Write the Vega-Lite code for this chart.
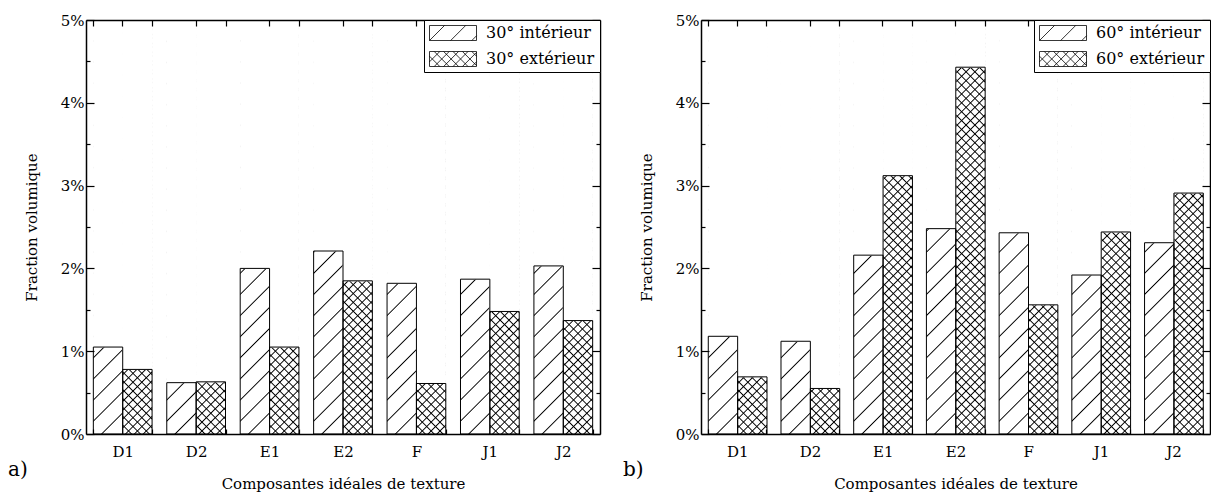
{
"$schema": "https://vega.github.io/schema/vega-lite/v6.json",
"background": "white",
"padding": {"left": 8, "top": 13, "right": 0, "bottom": 4},
"spacing": 22,
"resolve": {"scale": {"shape": "independent"}, "legend": {"shape": "independent"}},
"params": [
  {"name": "gInt", "value": {"gradient": "linear", "x1": 0, "y1": 0, "x2": 0.0756, "y2": 1.0656, "stops": [
{"offset":0.0446,"color":"transparent"},{"offset":0.0476,"color":"black"},{"offset":0.0506,"color":"transparent"},
{"offset":0.0922,"color":"transparent"},{"offset":0.0952,"color":"black"},{"offset":0.0982,"color":"transparent"},
{"offset":0.1399,"color":"transparent"},{"offset":0.1429,"color":"black"},{"offset":0.1459,"color":"transparent"},
{"offset":0.1875,"color":"transparent"},{"offset":0.1905,"color":"black"},{"offset":0.1935,"color":"transparent"},
{"offset":0.2351,"color":"transparent"},{"offset":0.2381,"color":"black"},{"offset":0.2411,"color":"transparent"},
{"offset":0.2827,"color":"transparent"},{"offset":0.2857,"color":"black"},{"offset":0.2887,"color":"transparent"},
{"offset":0.3303,"color":"transparent"},{"offset":0.3333,"color":"black"},{"offset":0.3363,"color":"transparent"},
{"offset":0.378,"color":"transparent"},{"offset":0.381,"color":"black"},{"offset":0.384,"color":"transparent"},
{"offset":0.4256,"color":"transparent"},{"offset":0.4286,"color":"black"},{"offset":0.4316,"color":"transparent"},
{"offset":0.4732,"color":"transparent"},{"offset":0.4762,"color":"black"},{"offset":0.4792,"color":"transparent"},
{"offset":0.5208,"color":"transparent"},{"offset":0.5238,"color":"black"},{"offset":0.5268,"color":"transparent"},
{"offset":0.5684,"color":"transparent"},{"offset":0.5714,"color":"black"},{"offset":0.5744,"color":"transparent"},
{"offset":0.616,"color":"transparent"},{"offset":0.619,"color":"black"},{"offset":0.622,"color":"transparent"},
{"offset":0.6637,"color":"transparent"},{"offset":0.6667,"color":"black"},{"offset":0.6697,"color":"transparent"},
{"offset":0.7113,"color":"transparent"},{"offset":0.7143,"color":"black"},{"offset":0.7173,"color":"transparent"},
{"offset":0.7589,"color":"transparent"},{"offset":0.7619,"color":"black"},{"offset":0.7649,"color":"transparent"},
{"offset":0.8065,"color":"transparent"},{"offset":0.8095,"color":"black"},{"offset":0.8125,"color":"transparent"},
{"offset":0.8541,"color":"transparent"},{"offset":0.8571,"color":"black"},{"offset":0.8601,"color":"transparent"},
{"offset":0.9018,"color":"transparent"},{"offset":0.9048,"color":"black"},{"offset":0.9078,"color":"transparent"},
{"offset":0.9494,"color":"transparent"},{"offset":0.9524,"color":"black"},{"offset":0.9554,"color":"transparent"}
  ]}},
  {"name": "gXa", "value": {"gradient": "linear", "x1": 0, "y1": 0, "x2": 0.0756, "y2": 1.0656, "stops": [
{"offset":0.017,"color":"transparent"},{"offset":0.02,"color":"black"},{"offset":0.023,"color":"transparent"},
{"offset":0.037,"color":"transparent"},{"offset":0.04,"color":"black"},{"offset":0.043,"color":"transparent"},
{"offset":0.057,"color":"transparent"},{"offset":0.06,"color":"black"},{"offset":0.063,"color":"transparent"},
{"offset":0.077,"color":"transparent"},{"offset":0.08,"color":"black"},{"offset":0.083,"color":"transparent"},
{"offset":0.097,"color":"transparent"},{"offset":0.1,"color":"black"},{"offset":0.103,"color":"transparent"},
{"offset":0.117,"color":"transparent"},{"offset":0.12,"color":"black"},{"offset":0.123,"color":"transparent"},
{"offset":0.137,"color":"transparent"},{"offset":0.14,"color":"black"},{"offset":0.143,"color":"transparent"},
{"offset":0.157,"color":"transparent"},{"offset":0.16,"color":"black"},{"offset":0.163,"color":"transparent"},
{"offset":0.177,"color":"transparent"},{"offset":0.18,"color":"black"},{"offset":0.183,"color":"transparent"},
{"offset":0.197,"color":"transparent"},{"offset":0.2,"color":"black"},{"offset":0.203,"color":"transparent"},
{"offset":0.217,"color":"transparent"},{"offset":0.22,"color":"black"},{"offset":0.223,"color":"transparent"},
{"offset":0.237,"color":"transparent"},{"offset":0.24,"color":"black"},{"offset":0.243,"color":"transparent"},
{"offset":0.257,"color":"transparent"},{"offset":0.26,"color":"black"},{"offset":0.263,"color":"transparent"},
{"offset":0.277,"color":"transparent"},{"offset":0.28,"color":"black"},{"offset":0.283,"color":"transparent"},
{"offset":0.297,"color":"transparent"},{"offset":0.3,"color":"black"},{"offset":0.303,"color":"transparent"},
{"offset":0.317,"color":"transparent"},{"offset":0.32,"color":"black"},{"offset":0.323,"color":"transparent"},
{"offset":0.337,"color":"transparent"},{"offset":0.34,"color":"black"},{"offset":0.343,"color":"transparent"},
{"offset":0.357,"color":"transparent"},{"offset":0.36,"color":"black"},{"offset":0.363,"color":"transparent"},
{"offset":0.377,"color":"transparent"},{"offset":0.38,"color":"black"},{"offset":0.383,"color":"transparent"},
{"offset":0.397,"color":"transparent"},{"offset":0.4,"color":"black"},{"offset":0.403,"color":"transparent"},
{"offset":0.417,"color":"transparent"},{"offset":0.42,"color":"black"},{"offset":0.423,"color":"transparent"},
{"offset":0.437,"color":"transparent"},{"offset":0.44,"color":"black"},{"offset":0.443,"color":"transparent"},
{"offset":0.457,"color":"transparent"},{"offset":0.46,"color":"black"},{"offset":0.463,"color":"transparent"},
{"offset":0.477,"color":"transparent"},{"offset":0.48,"color":"black"},{"offset":0.483,"color":"transparent"},
{"offset":0.497,"color":"transparent"},{"offset":0.5,"color":"black"},{"offset":0.503,"color":"transparent"},
{"offset":0.517,"color":"transparent"},{"offset":0.52,"color":"black"},{"offset":0.523,"color":"transparent"},
{"offset":0.537,"color":"transparent"},{"offset":0.54,"color":"black"},{"offset":0.543,"color":"transparent"},
{"offset":0.557,"color":"transparent"},{"offset":0.56,"color":"black"},{"offset":0.563,"color":"transparent"},
{"offset":0.577,"color":"transparent"},{"offset":0.58,"color":"black"},{"offset":0.583,"color":"transparent"},
{"offset":0.597,"color":"transparent"},{"offset":0.6,"color":"black"},{"offset":0.603,"color":"transparent"},
{"offset":0.617,"color":"transparent"},{"offset":0.62,"color":"black"},{"offset":0.623,"color":"transparent"},
{"offset":0.637,"color":"transparent"},{"offset":0.64,"color":"black"},{"offset":0.643,"color":"transparent"},
{"offset":0.657,"color":"transparent"},{"offset":0.66,"color":"black"},{"offset":0.663,"color":"transparent"},
{"offset":0.677,"color":"transparent"},{"offset":0.68,"color":"black"},{"offset":0.683,"color":"transparent"},
{"offset":0.697,"color":"transparent"},{"offset":0.7,"color":"black"},{"offset":0.703,"color":"transparent"},
{"offset":0.717,"color":"transparent"},{"offset":0.72,"color":"black"},{"offset":0.723,"color":"transparent"},
{"offset":0.737,"color":"transparent"},{"offset":0.74,"color":"black"},{"offset":0.743,"color":"transparent"},
{"offset":0.757,"color":"transparent"},{"offset":0.76,"color":"black"},{"offset":0.763,"color":"transparent"},
{"offset":0.777,"color":"transparent"},{"offset":0.78,"color":"black"},{"offset":0.783,"color":"transparent"},
{"offset":0.797,"color":"transparent"},{"offset":0.8,"color":"black"},{"offset":0.803,"color":"transparent"},
{"offset":0.817,"color":"transparent"},{"offset":0.82,"color":"black"},{"offset":0.823,"color":"transparent"},
{"offset":0.837,"color":"transparent"},{"offset":0.84,"color":"black"},{"offset":0.843,"color":"transparent"},
{"offset":0.857,"color":"transparent"},{"offset":0.86,"color":"black"},{"offset":0.863,"color":"transparent"},
{"offset":0.877,"color":"transparent"},{"offset":0.88,"color":"black"},{"offset":0.883,"color":"transparent"},
{"offset":0.897,"color":"transparent"},{"offset":0.9,"color":"black"},{"offset":0.903,"color":"transparent"},
{"offset":0.917,"color":"transparent"},{"offset":0.92,"color":"black"},{"offset":0.923,"color":"transparent"},
{"offset":0.937,"color":"transparent"},{"offset":0.94,"color":"black"},{"offset":0.943,"color":"transparent"},
{"offset":0.957,"color":"transparent"},{"offset":0.96,"color":"black"},{"offset":0.963,"color":"transparent"},
{"offset":0.977,"color":"transparent"},{"offset":0.98,"color":"black"},{"offset":0.983,"color":"transparent"}
  ]}},
  {"name": "gXb", "value": {"gradient": "linear", "x1": 0, "y1": 1, "x2": 0.0756, "y2": -0.0656, "stops": [
{"offset":0.017,"color":"transparent"},{"offset":0.02,"color":"black"},{"offset":0.023,"color":"transparent"},
{"offset":0.037,"color":"transparent"},{"offset":0.04,"color":"black"},{"offset":0.043,"color":"transparent"},
{"offset":0.057,"color":"transparent"},{"offset":0.06,"color":"black"},{"offset":0.063,"color":"transparent"},
{"offset":0.077,"color":"transparent"},{"offset":0.08,"color":"black"},{"offset":0.083,"color":"transparent"},
{"offset":0.097,"color":"transparent"},{"offset":0.1,"color":"black"},{"offset":0.103,"color":"transparent"},
{"offset":0.117,"color":"transparent"},{"offset":0.12,"color":"black"},{"offset":0.123,"color":"transparent"},
{"offset":0.137,"color":"transparent"},{"offset":0.14,"color":"black"},{"offset":0.143,"color":"transparent"},
{"offset":0.157,"color":"transparent"},{"offset":0.16,"color":"black"},{"offset":0.163,"color":"transparent"},
{"offset":0.177,"color":"transparent"},{"offset":0.18,"color":"black"},{"offset":0.183,"color":"transparent"},
{"offset":0.197,"color":"transparent"},{"offset":0.2,"color":"black"},{"offset":0.203,"color":"transparent"},
{"offset":0.217,"color":"transparent"},{"offset":0.22,"color":"black"},{"offset":0.223,"color":"transparent"},
{"offset":0.237,"color":"transparent"},{"offset":0.24,"color":"black"},{"offset":0.243,"color":"transparent"},
{"offset":0.257,"color":"transparent"},{"offset":0.26,"color":"black"},{"offset":0.263,"color":"transparent"},
{"offset":0.277,"color":"transparent"},{"offset":0.28,"color":"black"},{"offset":0.283,"color":"transparent"},
{"offset":0.297,"color":"transparent"},{"offset":0.3,"color":"black"},{"offset":0.303,"color":"transparent"},
{"offset":0.317,"color":"transparent"},{"offset":0.32,"color":"black"},{"offset":0.323,"color":"transparent"},
{"offset":0.337,"color":"transparent"},{"offset":0.34,"color":"black"},{"offset":0.343,"color":"transparent"},
{"offset":0.357,"color":"transparent"},{"offset":0.36,"color":"black"},{"offset":0.363,"color":"transparent"},
{"offset":0.377,"color":"transparent"},{"offset":0.38,"color":"black"},{"offset":0.383,"color":"transparent"},
{"offset":0.397,"color":"transparent"},{"offset":0.4,"color":"black"},{"offset":0.403,"color":"transparent"},
{"offset":0.417,"color":"transparent"},{"offset":0.42,"color":"black"},{"offset":0.423,"color":"transparent"},
{"offset":0.437,"color":"transparent"},{"offset":0.44,"color":"black"},{"offset":0.443,"color":"transparent"},
{"offset":0.457,"color":"transparent"},{"offset":0.46,"color":"black"},{"offset":0.463,"color":"transparent"},
{"offset":0.477,"color":"transparent"},{"offset":0.48,"color":"black"},{"offset":0.483,"color":"transparent"},
{"offset":0.497,"color":"transparent"},{"offset":0.5,"color":"black"},{"offset":0.503,"color":"transparent"},
{"offset":0.517,"color":"transparent"},{"offset":0.52,"color":"black"},{"offset":0.523,"color":"transparent"},
{"offset":0.537,"color":"transparent"},{"offset":0.54,"color":"black"},{"offset":0.543,"color":"transparent"},
{"offset":0.557,"color":"transparent"},{"offset":0.56,"color":"black"},{"offset":0.563,"color":"transparent"},
{"offset":0.577,"color":"transparent"},{"offset":0.58,"color":"black"},{"offset":0.583,"color":"transparent"},
{"offset":0.597,"color":"transparent"},{"offset":0.6,"color":"black"},{"offset":0.603,"color":"transparent"},
{"offset":0.617,"color":"transparent"},{"offset":0.62,"color":"black"},{"offset":0.623,"color":"transparent"},
{"offset":0.637,"color":"transparent"},{"offset":0.64,"color":"black"},{"offset":0.643,"color":"transparent"},
{"offset":0.657,"color":"transparent"},{"offset":0.66,"color":"black"},{"offset":0.663,"color":"transparent"},
{"offset":0.677,"color":"transparent"},{"offset":0.68,"color":"black"},{"offset":0.683,"color":"transparent"},
{"offset":0.697,"color":"transparent"},{"offset":0.7,"color":"black"},{"offset":0.703,"color":"transparent"},
{"offset":0.717,"color":"transparent"},{"offset":0.72,"color":"black"},{"offset":0.723,"color":"transparent"},
{"offset":0.737,"color":"transparent"},{"offset":0.74,"color":"black"},{"offset":0.743,"color":"transparent"},
{"offset":0.757,"color":"transparent"},{"offset":0.76,"color":"black"},{"offset":0.763,"color":"transparent"},
{"offset":0.777,"color":"transparent"},{"offset":0.78,"color":"black"},{"offset":0.783,"color":"transparent"},
{"offset":0.797,"color":"transparent"},{"offset":0.8,"color":"black"},{"offset":0.803,"color":"transparent"},
{"offset":0.817,"color":"transparent"},{"offset":0.82,"color":"black"},{"offset":0.823,"color":"transparent"},
{"offset":0.837,"color":"transparent"},{"offset":0.84,"color":"black"},{"offset":0.843,"color":"transparent"},
{"offset":0.857,"color":"transparent"},{"offset":0.86,"color":"black"},{"offset":0.863,"color":"transparent"},
{"offset":0.877,"color":"transparent"},{"offset":0.88,"color":"black"},{"offset":0.883,"color":"transparent"},
{"offset":0.897,"color":"transparent"},{"offset":0.9,"color":"black"},{"offset":0.903,"color":"transparent"},
{"offset":0.917,"color":"transparent"},{"offset":0.92,"color":"black"},{"offset":0.923,"color":"transparent"},
{"offset":0.937,"color":"transparent"},{"offset":0.94,"color":"black"},{"offset":0.943,"color":"transparent"},
{"offset":0.957,"color":"transparent"},{"offset":0.96,"color":"black"},{"offset":0.963,"color":"transparent"},
{"offset":0.977,"color":"transparent"},{"offset":0.98,"color":"black"},{"offset":0.983,"color":"transparent"}
  ]}}
],
"config": {
  "font": "DejaVu Serif",
  "view": {"stroke": null},
  "axis": {"grid": false, "labelFont": "DejaVu Serif", "labelFontSize": 15, "labelColor": "black", "titleFont": "DejaVu Serif", "titleFontSize": 15, "titleFontWeight": "normal", "titleColor": "black", "domainColor": "black", "domainWidth": 1.5, "tickColor": "black", "tickWidth": 1.2},
  "title": {"font": "DejaVu Serif", "fontSize": 20, "fontWeight": "normal", "color": "black"},
  "legend": {"orient": "top-right", "offset": 0, "padding": 5, "fillColor": "white", "strokeColor": "black", "strokeWidth": 1, "labelFont": "DejaVu Serif", "labelFontSize": 16, "labelColor": "black", "labelOffset": 9, "symbolOpacity": 1}
},
"hconcat": [
{
  "width": 514, "height": 414,
  "title": {"text": "a)", "orient": "bottom", "anchor": "start", "frame": "group", "dx": -78, "dy": -35},
  "data": {"values": [
    {"cat": "D1", "ori": "int", "v": 1.05, "serie": "30° intérieur"}, {"cat": "D1", "ori": "ext", "v": 0.78, "serie": "30° extérieur"},
    {"cat": "D2", "ori": "int", "v": 0.62, "serie": "30° intérieur"}, {"cat": "D2", "ori": "ext", "v": 0.63, "serie": "30° extérieur"},
    {"cat": "E1", "ori": "int", "v": 2.00, "serie": "30° intérieur"}, {"cat": "E1", "ori": "ext", "v": 1.05, "serie": "30° extérieur"},
    {"cat": "E2", "ori": "int", "v": 2.21, "serie": "30° intérieur"}, {"cat": "E2", "ori": "ext", "v": 1.85, "serie": "30° extérieur"},
    {"cat": "F", "ori": "int", "v": 1.82, "serie": "30° intérieur"}, {"cat": "F", "ori": "ext", "v": 0.61, "serie": "30° extérieur"},
    {"cat": "J1", "ori": "int", "v": 1.87, "serie": "30° intérieur"}, {"cat": "J1", "ori": "ext", "v": 1.48, "serie": "30° extérieur"},
    {"cat": "J2", "ori": "int", "v": 2.03, "serie": "30° intérieur"}, {"cat": "J2", "ori": "ext", "v": 1.37, "serie": "30° extérieur"}
  ]},
  "resolve": {"axis": {"x": "independent", "y": "independent"}},
  "layer": [
    {"transform": [{"filter": "datum.ori == 'int'"}],
     "mark": {"type": "bar", "fill": {"expr": "gInt"}, "strokeWidth": 0},
     "encoding": {
       "x": {"field": "cat", "type": "nominal", "scale": {"domain": ["D1","D2","E1","E2","F","J1","J2"], "paddingInner": 0.2, "paddingOuter": 0.1}, "axis": {"orient": "bottom", "zindex": 1, "title": "Composantes idéales de texture", "tickBand": "extent", "tickSize": -5, "labelPadding": 15, "labelAngle": 0, "titlePadding": 17}},
       "xOffset": {"field": "ori", "type": "nominal", "scale": {"domain": ["int","ext"], "paddingInner": 0, "paddingOuter": 0}},
       "y": {"datum": 0, "type": "quantitative", "scale": {"domain": [0, 5], "nice": false}, "axis": {"orient": "left", "zindex": 1, "title": "Fraction volumique", "values": [0,1,2,3,4,5], "labelExpr": "datum.value + '%'", "tickSize": -8, "labelPadding": 10, "titlePadding": 21}},
       "y2": {"datum": 5}
     }},
    {"transform": [{"filter": "datum.ori == 'ext'"}],
     "mark": {"type": "bar", "fill": {"expr": "gXa"}, "strokeWidth": 0},
     "encoding": {
       "x": {"field": "cat", "type": "nominal", "axis": {"orient": "top", "zindex": 1, "title": null, "labels": false, "tickBand": "extent", "tickSize": -6}},
       "xOffset": {"field": "ori", "type": "nominal"},
       "y": {"datum": 0, "type": "quantitative", "axis": {"orient": "right", "zindex": 1, "title": null, "labels": false, "values": [0,1,2,3,4,5], "tickSize": -8}},
       "y2": {"datum": 5}
     }},
    {"transform": [{"filter": "datum.ori == 'ext'"}],
     "mark": {"type": "bar", "fill": {"expr": "gXb"}, "strokeWidth": 0},
     "encoding": {
       "x": {"field": "cat", "type": "nominal", "axis": {"orient": "top", "zindex": 1, "title": null, "labels": false, "domain": false, "tickSize": -6}},
       "xOffset": {"field": "ori", "type": "nominal"},
       "y": {"datum": 0, "type": "quantitative", "axis": {"orient": "left", "zindex": 1, "title": null, "labels": false, "domain": false, "values": [0.5,1.5,2.5,3.5,4.5], "tickSize": -4}},
       "y2": {"datum": 5}
     }},
    {"mark": {"type": "bar", "fill": "white", "stroke": "white", "strokeWidth": 1},
     "encoding": {
       "x": {"field": "cat", "type": "nominal", "axis": null},
       "xOffset": {"field": "ori", "type": "nominal"},
       "y": {"field": "v", "type": "quantitative", "axis": {"orient": "right", "zindex": 1, "title": null, "labels": false, "domain": false, "values": [0.5,1.5,2.5,3.5,4.5], "tickSize": -4}},
       "y2": {"datum": 5}
     }},
    {"mark": {"type": "bar", "fill": "transparent", "stroke": "black", "strokeWidth": 1},
     "encoding": {
       "x": {"field": "cat", "type": "nominal", "axis": null},
       "xOffset": {"field": "ori", "type": "nominal"},
       "y": {"field": "v", "type": "quantitative", "axis": null}
     }},
    {"mark": {"type": "point", "size": 0},
     "encoding": {
       "x": {"field": "cat", "type": "nominal", "axis": null},
       "y": {"field": "v", "type": "quantitative", "axis": null},
       "shape": {"field": "serie", "type": "nominal",
         "scale": {"domain": ["30° intérieur", "30° extérieur"], "range": ["M-1,-0.32H1V0.32H-1ZM-1,0.32L-0.36,-0.32M-0.1,0.32L0.54,-0.32M0.8,0.32L1,0.12", "M-1,-0.32H1V0.32H-1ZM-1,0.12L-0.56,-0.32M-0.8,0.32L-0.16,-0.32M-0.4,0.32L0.24,-0.32M0,0.32L0.64,-0.32M0.4,0.32L1,-0.28M0.8,0.32L1,0.12M-1,-0.12L-0.56,0.32M-0.8,-0.32L-0.16,0.32M-0.4,-0.32L0.24,0.32M0,-0.32L0.64,0.32M0.4,-0.32L1,0.28M0.8,-0.32L1,-0.12"]},
         "legend": {"title": null, "orient": "top-right", "zindex": 2, "symbolStrokeColor": "black", "symbolFillColor": "white", "symbolStrokeWidth": 0.8, "symbolSize": 2209, "symbolOpacity": 1, "clipHeight": 16, "rowPadding": 10}}
     }}
  ]
},
{
  "width": 509, "height": 414,
  "title": {"text": "b)", "orient": "bottom", "anchor": "start", "frame": "group", "dx": -78, "dy": -35},
  "data": {"values": [
    {"cat": "D1", "ori": "int", "v": 1.18, "serie": "60° intérieur"}, {"cat": "D1", "ori": "ext", "v": 0.69, "serie": "60° extérieur"},
    {"cat": "D2", "ori": "int", "v": 1.12, "serie": "60° intérieur"}, {"cat": "D2", "ori": "ext", "v": 0.55, "serie": "60° extérieur"},
    {"cat": "E1", "ori": "int", "v": 2.16, "serie": "60° intérieur"}, {"cat": "E1", "ori": "ext", "v": 3.12, "serie": "60° extérieur"},
    {"cat": "E2", "ori": "int", "v": 2.48, "serie": "60° intérieur"}, {"cat": "E2", "ori": "ext", "v": 4.43, "serie": "60° extérieur"},
    {"cat": "F", "ori": "int", "v": 2.43, "serie": "60° intérieur"}, {"cat": "F", "ori": "ext", "v": 1.56, "serie": "60° extérieur"},
    {"cat": "J1", "ori": "int", "v": 1.92, "serie": "60° intérieur"}, {"cat": "J1", "ori": "ext", "v": 2.44, "serie": "60° extérieur"},
    {"cat": "J2", "ori": "int", "v": 2.31, "serie": "60° intérieur"}, {"cat": "J2", "ori": "ext", "v": 2.91, "serie": "60° extérieur"}
  ]},
  "resolve": {"axis": {"x": "independent", "y": "independent"}},
  "layer": [
    {"transform": [{"filter": "datum.ori == 'int'"}],
     "mark": {"type": "bar", "fill": {"expr": "gInt"}, "strokeWidth": 0},
     "encoding": {
       "x": {"field": "cat", "type": "nominal", "scale": {"domain": ["D1","D2","E1","E2","F","J1","J2"], "paddingInner": 0.2, "paddingOuter": 0.1}, "axis": {"orient": "bottom", "zindex": 1, "title": "Composantes idéales de texture", "tickBand": "extent", "tickSize": -5, "labelPadding": 15, "labelAngle": 0, "titlePadding": 17}},
       "xOffset": {"field": "ori", "type": "nominal", "scale": {"domain": ["int","ext"], "paddingInner": 0, "paddingOuter": 0}},
       "y": {"datum": 0, "type": "quantitative", "scale": {"domain": [0, 5], "nice": false}, "axis": {"orient": "left", "zindex": 1, "title": "Fraction volumique", "values": [0,1,2,3,4,5], "labelExpr": "datum.value + '%'", "tickSize": -8, "labelPadding": 10, "titlePadding": 21}},
       "y2": {"datum": 5}
     }},
    {"transform": [{"filter": "datum.ori == 'ext'"}],
     "mark": {"type": "bar", "fill": {"expr": "gXa"}, "strokeWidth": 0},
     "encoding": {
       "x": {"field": "cat", "type": "nominal", "axis": {"orient": "top", "zindex": 1, "title": null, "labels": false, "tickBand": "extent", "tickSize": -6}},
       "xOffset": {"field": "ori", "type": "nominal"},
       "y": {"datum": 0, "type": "quantitative", "axis": {"orient": "right", "zindex": 1, "title": null, "labels": false, "values": [0,1,2,3,4,5], "tickSize": -8}},
       "y2": {"datum": 5}
     }},
    {"transform": [{"filter": "datum.ori == 'ext'"}],
     "mark": {"type": "bar", "fill": {"expr": "gXb"}, "strokeWidth": 0},
     "encoding": {
       "x": {"field": "cat", "type": "nominal", "axis": {"orient": "top", "zindex": 1, "title": null, "labels": false, "domain": false, "tickSize": -6}},
       "xOffset": {"field": "ori", "type": "nominal"},
       "y": {"datum": 0, "type": "quantitative", "axis": {"orient": "left", "zindex": 1, "title": null, "labels": false, "domain": false, "values": [0.5,1.5,2.5,3.5,4.5], "tickSize": -4}},
       "y2": {"datum": 5}
     }},
    {"mark": {"type": "bar", "fill": "white", "stroke": "white", "strokeWidth": 1},
     "encoding": {
       "x": {"field": "cat", "type": "nominal", "axis": null},
       "xOffset": {"field": "ori", "type": "nominal"},
       "y": {"field": "v", "type": "quantitative", "axis": {"orient": "right", "zindex": 1, "title": null, "labels": false, "domain": false, "values": [0.5,1.5,2.5,3.5,4.5], "tickSize": -4}},
       "y2": {"datum": 5}
     }},
    {"mark": {"type": "bar", "fill": "transparent", "stroke": "black", "strokeWidth": 1},
     "encoding": {
       "x": {"field": "cat", "type": "nominal", "axis": null},
       "xOffset": {"field": "ori", "type": "nominal"},
       "y": {"field": "v", "type": "quantitative", "axis": null}
     }},
    {"mark": {"type": "point", "size": 0},
     "encoding": {
       "x": {"field": "cat", "type": "nominal", "axis": null},
       "y": {"field": "v", "type": "quantitative", "axis": null},
       "shape": {"field": "serie", "type": "nominal",
         "scale": {"domain": ["60° intérieur", "60° extérieur"], "range": ["M-1,-0.32H1V0.32H-1ZM-1,0.32L-0.36,-0.32M-0.1,0.32L0.54,-0.32M0.8,0.32L1,0.12", "M-1,-0.32H1V0.32H-1ZM-1,0.12L-0.56,-0.32M-0.8,0.32L-0.16,-0.32M-0.4,0.32L0.24,-0.32M0,0.32L0.64,-0.32M0.4,0.32L1,-0.28M0.8,0.32L1,0.12M-1,-0.12L-0.56,0.32M-0.8,-0.32L-0.16,0.32M-0.4,-0.32L0.24,0.32M0,-0.32L0.64,0.32M0.4,-0.32L1,0.28M0.8,-0.32L1,-0.12"]},
         "legend": {"title": null, "orient": "top-right", "zindex": 2, "symbolStrokeColor": "black", "symbolFillColor": "white", "symbolStrokeWidth": 0.8, "symbolSize": 2209, "symbolOpacity": 1, "clipHeight": 16, "rowPadding": 10}}
     }}
  ]
}
]
}
